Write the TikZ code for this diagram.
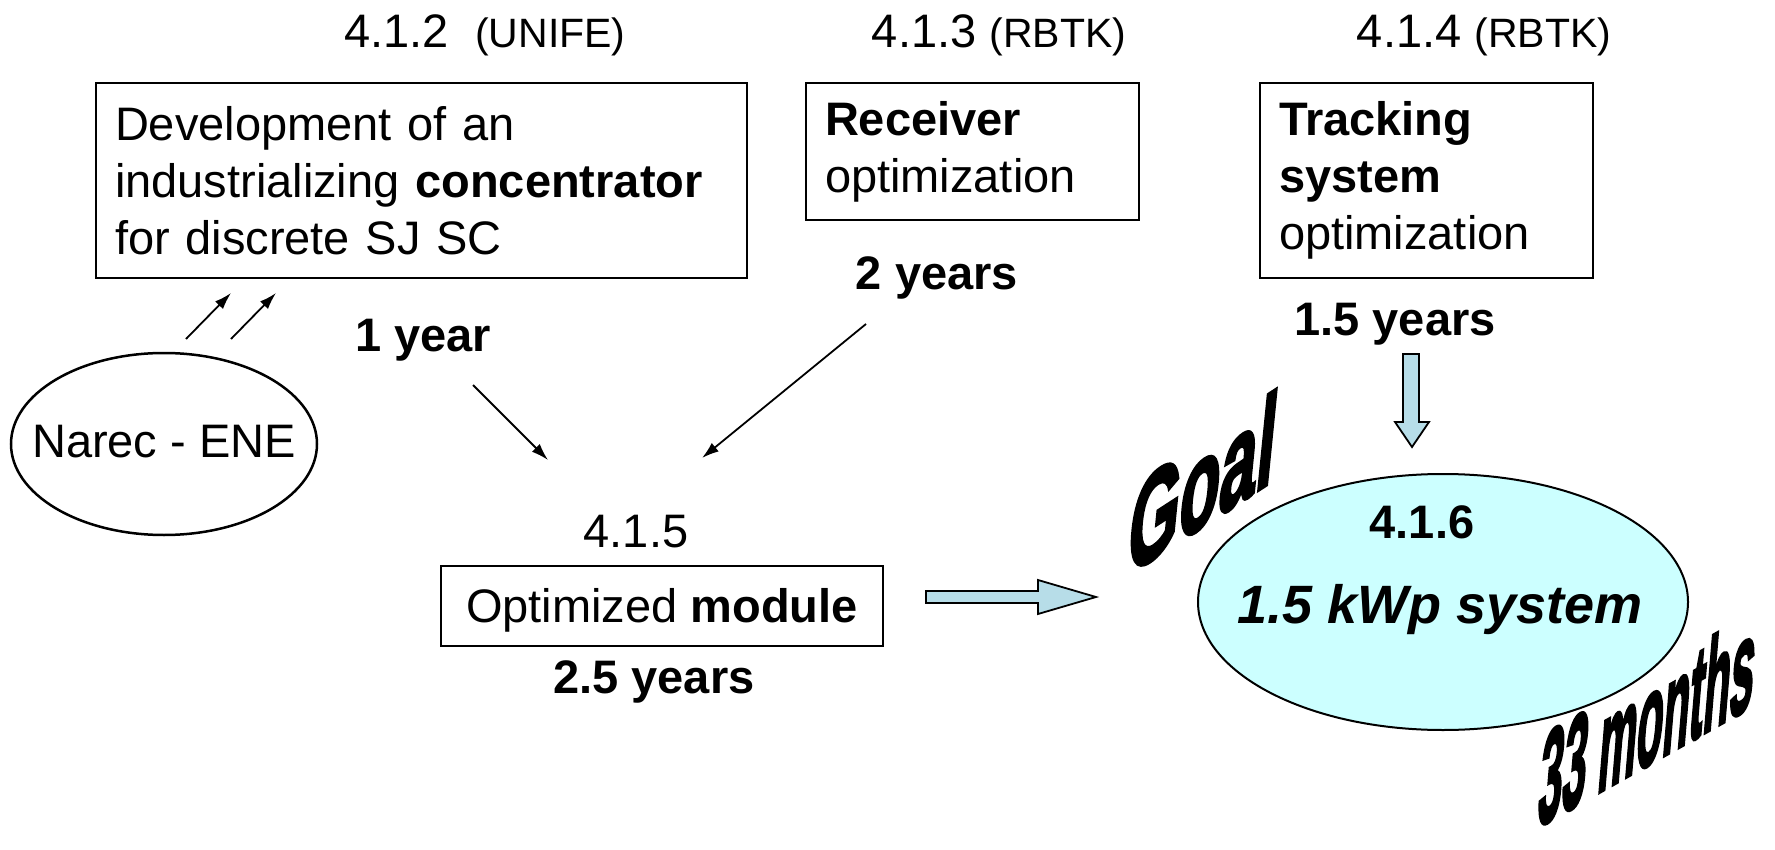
\documentclass[tikz,border=0pt]{standalone}
\usepackage{fontspec}
\setmainfont{Liberation Sans}
\newfontfamily\wordartfont[FakeBold=3]{Liberation Sans Bold}
\usetikzlibrary{arrows.meta,shapes.geometric}
\definecolor{ellfill}{HTML}{CCFFFF}
\definecolor{arrowfill}{HTML}{B7DDE8}
\begin{document}
\begin{tikzpicture}[x=1pt,y=-1pt,
  every node/.style={inner sep=0pt, font=\fontsize{47}{57}\selectfont},
  box/.style={draw, line width=2pt, inner xsep=19pt, inner ysep=0pt, align=left, anchor=north west},
  numlbl/.style={anchor=base},
  timelbl/.style={anchor=base, font=\fontsize{47}{57}\selectfont\bfseries},
  thinarrow/.style={line width=1.8pt, -{Latex[length=17pt,width=11pt]}},
  blockarrow/.style={draw, line width=1.8pt, fill=arrowfill, line join=miter},
  bigword/.style={anchor=base west, transform shape}
]
\useasboundingbox (0,0) rectangle (1775,850);

% top labels
\node[numlbl] (l412) at (485,48) {4.1.2~~{\fontsize{41}{50}\selectfont(UNIFE)}};
\node[numlbl] (l413) at (999,48) {4.1.3 {\fontsize{41}{50}\selectfont(RBTK)}};
\node[numlbl] (l414) at (1484,48) {4.1.4 {\fontsize{41}{50}\selectfont(RBTK)}};

% boxes
\node[box, text width=613pt, minimum height=195pt] (b412) at (95,82)
  {Development of an\\industrializing \textbf{concentrator}\\for discrete SJ SC};
\node[box, text width=295pt, minimum height=137pt] (b413) at (805,82)
  {\textbf{Receiver}\\optimization};
\node[box, text width=295pt, minimum height=195pt] (b414) at (1259,82)
  {\textbf{Tracking}\\\textbf{system}\\optimization};

% time labels
\node[timelbl] (t1) at (423,352) {1 year};
\node[timelbl] (t2) at (937,290) {2 years};
\node[timelbl] (t15) at (1395,335) {1.5 years};

% Narec ellipse
\node[draw, ellipse, line width=2.5pt, minimum width=306pt, minimum height=182pt] (narec) at (164,444) {};
\node[anchor=base] (narectxt) at (164,457) {Narec - ENE};

% small arrows from Narec
\coordinate (na1s) at (186,339); \coordinate (na1e) at (231,293);
\coordinate (na2s) at (231,339); \coordinate (na2e) at (276,293);
\draw[thinarrow] (na1s) -- (na1e);
\draw[thinarrow] (na2s) -- (na2e);

% arrows to module
\coordinate (a1s) at (473,385); \coordinate (a1e) at (548,460);
\coordinate (a2s) at (866,324); \coordinate (a2e) at (702,458);
\draw[thinarrow] (a1s) -- (a1e);
\draw[thinarrow] (a2s) -- (a2e);

% module
\node[numlbl] (l415) at (636,547) {4.1.5};
\node[draw, line width=2pt, minimum width=442pt, minimum height=80pt, text height=34pt, text depth=2pt] (b415) at (662,606) {Optimized \textbf{module}};
\node[timelbl] (t25) at (654,693) {2.5 years};

% block arrows
\draw[blockarrow] (926,591) -- (1038,591) -- (1038,580) -- (1096,597) -- (1038,614) -- (1038,603) -- (926,603) -- cycle;
\draw[blockarrow] (1403,354) -- (1419,354) -- (1419,422) -- (1429,422) -- (1412,447) -- (1395,422) -- (1403,422) -- cycle;

% goal ellipse
\node[draw, ellipse, line width=2pt, fill=ellfill, minimum width=490pt, minimum height=256pt] (goalell) at (1443,602) {};
\node[timelbl] (l416) at (1422,538) {4.1.6};
\node[anchor=base, font=\fontsize{54}{60}\selectfont\bfseries\itshape] (kwp) at (1440,623) {1.5 kWp system};

% WordArt
\begin{scope}[shift={(1125,577)}, cm={0.6,0.39,0.12,1.2,(0,0)}]
  \node[bigword, font=\fontsize{110}{110}\wordartfont] (goal) at (0,0) {Goal};
\end{scope}
\begin{scope}[shift={(1536,828)}, cm={0.385,0.217,0.1,1.2,(0,0)}]
  \node[bigword, font=\fontsize{112}{112}\wordartfont] (months) at (0,0) {33 months};
\end{scope}
\end{tikzpicture}
\end{document}
